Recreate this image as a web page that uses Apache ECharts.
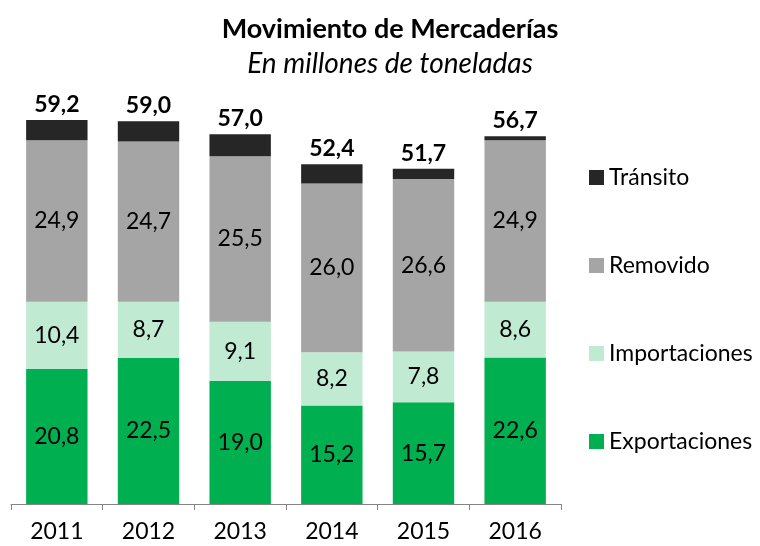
<!DOCTYPE html>
<html>
<head>
<meta charset="utf-8">
<script src="https://cdn.jsdelivr.net/npm/echarts@6/dist/echarts.min.js"></script>
<style>
  html, body { margin: 0; padding: 0; background: #fff; }
  #myChart { width: 760px; height: 546px; }
</style>
</head>
<body>
<div id="myChart"></div>
<script>
// datos del gráfico
const years = ['2011', '2012', '2013', '2014', '2015', '2016'];
const exportaciones = [20.8, 22.5, 19.0, 15.2, 15.7, 22.6];
const importaciones = [10.4, 8.7, 9.1, 8.2, 7.8, 8.6];
const removido = [24.9, 24.7, 25.5, 26.0, 26.6, 24.9];
const transito = [3.1, 3.1, 3.4, 3.0, 1.6, 0.6];
const totales = [59.2, 59.0, 57.0, 52.4, 51.7, 56.7];

const fontFam = 'Lato, "Open Sans", sans-serif';
const fmt = v => v.toFixed(1).replace('.', ',');

let myChart = echarts.init(document.getElementById('myChart'));

const innerLabel = {
  show: true,
  position: 'inside',
  color: '#000',
  fontSize: 23,
  fontFamily: fontFam,
  formatter: p => fmt(p.value)
};

myChart.setOption({
  animation: false,
  title: [
    {
      text: 'Movimiento de Mercaderías',
      left: 385,
      top: 11,
      textAlign: 'center',
      textStyle: { fontSize: 27, fontWeight: 'bold', color: '#000', fontFamily: fontFam }
    },
    {
      text: 'En millones de toneladas',
      left: 385,
      top: 45,
      textAlign: 'center',
      textStyle: { fontSize: 28, fontWeight: 'normal', fontStyle: 'italic', color: '#000', fontFamily: fontFam }
    }
  ],
  legend: {
    orient: 'vertical',
    left: 584,
    top: 161,
    itemWidth: 15,
    itemHeight: 15,
    itemGap: 65,
    icon: 'rect',
    textStyle: { fontSize: 23, color: '#000', fontFamily: fontFam, lineHeight: 23 },
    data: ['Tránsito', 'Removido', 'Importaciones', 'Exportaciones']
  },
  grid: {
    left: 11,
    right: 199,
    top: 50,
    bottom: 42
  },
  xAxis: {
    type: 'category',
    data: years,
    axisLine: { lineStyle: { color: '#868686' } },
    axisTick: { show: true, length: 6, lineStyle: { color: '#868686' } },
    axisLabel: { fontSize: 23, color: '#000', fontFamily: fontFam, margin: 16 }
  },
  yAxis: {
    type: 'value',
    min: 0,
    max: 70,
    show: false
  },
  series: [
    {
      name: 'Exportaciones',
      type: 'bar',
      stack: 'total',
      barWidth: '67%',
      itemStyle: { color: '#00B050' },
      label: innerLabel,
      data: exportaciones
    },
    {
      name: 'Importaciones',
      type: 'bar',
      stack: 'total',
      itemStyle: { color: '#C1EAD3' },
      label: innerLabel,
      data: importaciones
    },
    {
      name: 'Removido',
      type: 'bar',
      stack: 'total',
      itemStyle: { color: '#A5A5A5' },
      label: innerLabel,
      data: removido
    },
    {
      name: 'Tránsito',
      type: 'bar',
      stack: 'total',
      itemStyle: { color: '#262626' },
      label: {
        show: true,
        position: 'top',
        distance: 4,
        color: '#000',
        fontSize: 23,
        fontWeight: 'bold',
        fontFamily: fontFam,
        formatter: p => fmt(totales[p.dataIndex])
      },
      data: transito
    }
  ]
});
</script>
</body>
</html>
